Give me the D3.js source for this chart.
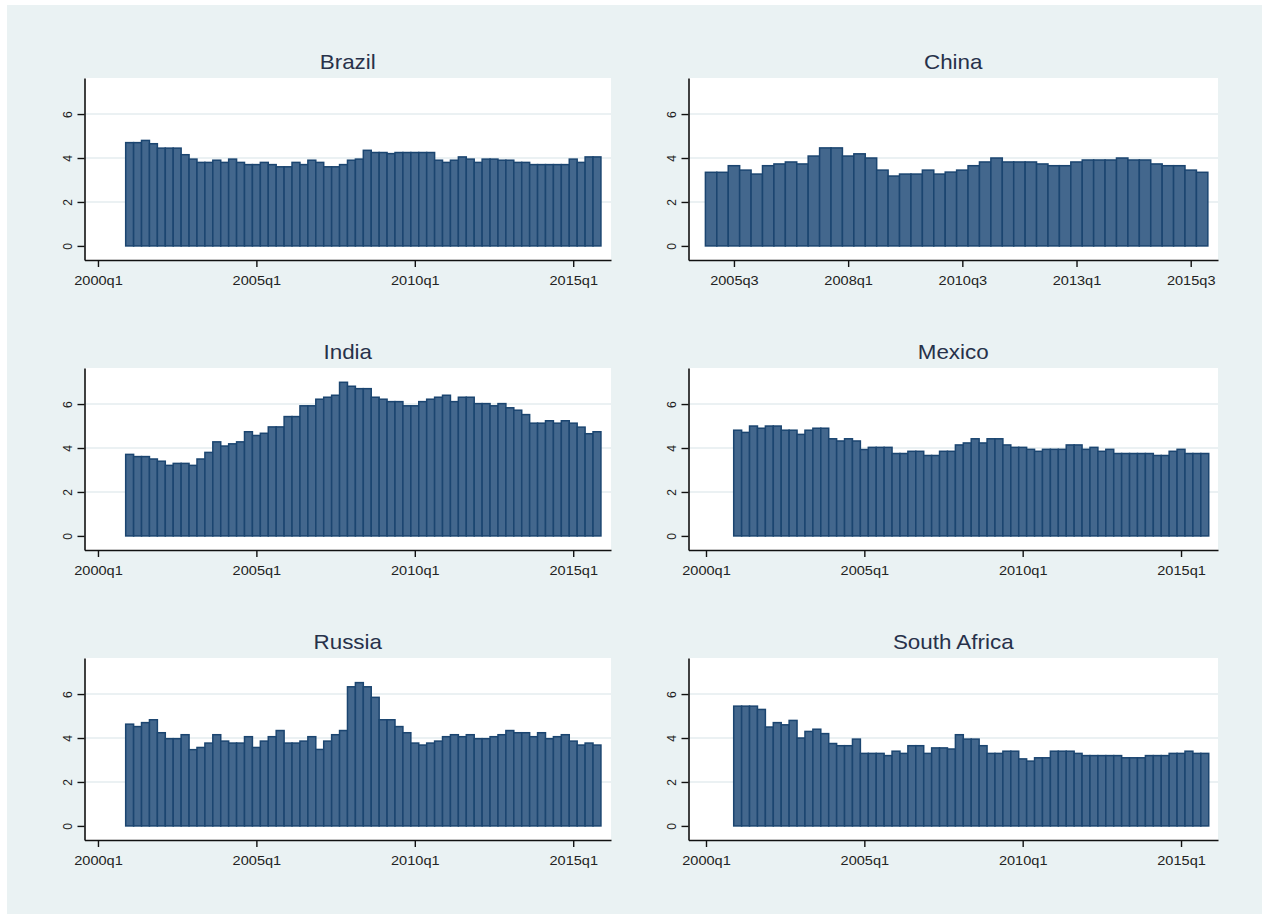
<!DOCTYPE html>
<html>
<head>
<meta charset="utf-8">
<script src="https://cdn.jsdelivr.net/npm/d3@7"></script>
<style>
  body { margin: 0; background: #ffffff; }
  svg { display: block; font-family: "Liberation Sans", Arial, sans-serif; }
</style>
</head>
<body>
<svg id="chart" width="1262" height="914"></svg>
<script>
// Quarterly series by country, one value per quarter starting at the listed first quarter
const countries = ["Brazil", "China", "India", "Mexico", "Russia", "South Africa"];
const firstQuarter = ["2001q1", "2005q1", "2001q1", "2001q1", "2001q1", "2001q1"];

const brazil = [4.7, 4.7, 4.8, 4.65, 4.45, 4.45, 4.45, 4.15, 3.95, 3.8,
  3.8, 3.9, 3.8, 3.95, 3.8, 3.7, 3.7, 3.8, 3.7, 3.6,
  3.6, 3.8, 3.7, 3.9, 3.8, 3.6, 3.6, 3.7, 3.9, 3.95,
  4.35, 4.25, 4.25, 4.2, 4.25, 4.25, 4.25, 4.25, 4.25, 3.9,
  3.8, 3.9, 4.05, 3.95, 3.8, 3.95, 3.95, 3.9, 3.9, 3.8,
  3.8, 3.7, 3.7, 3.7, 3.7, 3.7, 3.95, 3.8, 4.05, 4.05];

const china = [3.35, 3.35, 3.65, 3.45, 3.27, 3.65, 3.73, 3.82, 3.73, 4.09,
  4.46, 4.46, 4.09, 4.19, 4.0, 3.45, 3.18, 3.27, 3.27, 3.45,
  3.27, 3.36, 3.45, 3.65, 3.82, 4.0, 3.82, 3.82, 3.82, 3.73,
  3.65, 3.65, 3.82, 3.91, 3.91, 3.91, 4.0, 3.91, 3.91, 3.73,
  3.65, 3.65, 3.45, 3.35];

const india = [3.71, 3.61, 3.61, 3.5, 3.4, 3.21, 3.3, 3.3, 3.21, 3.5,
  3.8, 4.28, 4.09, 4.19, 4.28, 4.74, 4.57, 4.67, 4.96, 4.96,
  5.43, 5.43, 5.92, 5.92, 6.22, 6.31, 6.4, 6.99, 6.81, 6.7,
  6.7, 6.31, 6.22, 6.11, 6.11, 5.92, 5.92, 6.11, 6.22, 6.31,
  6.4, 6.11, 6.31, 6.31, 6.02, 6.02, 5.92, 6.02, 5.83, 5.72,
  5.52, 5.13, 5.13, 5.24, 5.13, 5.24, 5.13, 4.95, 4.65, 4.74];

const mexico = [4.81, 4.71, 5.0, 4.9, 5.0, 5.0, 4.81, 4.81, 4.62, 4.81,
  4.9, 4.9, 4.42, 4.32, 4.42, 4.32, 3.93, 4.03, 4.03, 4.03,
  3.75, 3.75, 3.85, 3.85, 3.66, 3.66, 3.85, 3.85, 4.14, 4.23,
  4.42, 4.23, 4.42, 4.42, 4.14, 4.03, 4.03, 3.94, 3.85, 3.94,
  3.94, 3.94, 4.14, 4.14, 3.94, 4.03, 3.85, 3.94, 3.75, 3.75,
  3.75, 3.75, 3.75, 3.66, 3.66, 3.85, 3.94, 3.75, 3.75, 3.75];

const russia = [4.63, 4.52, 4.7, 4.83, 4.24, 3.97, 3.97, 4.15, 3.47, 3.57,
  3.77, 4.15, 3.86, 3.77, 3.77, 4.06, 3.57, 3.86, 4.06, 4.34,
  3.77, 3.77, 3.86, 4.06, 3.48, 3.86, 4.15, 4.34, 6.33, 6.52,
  6.33, 5.85, 4.83, 4.83, 4.52, 4.24, 3.77, 3.68, 3.77, 3.86,
  4.06, 4.15, 4.06, 4.15, 3.97, 3.97, 4.06, 4.15, 4.34, 4.24,
  4.24, 4.06, 4.24, 3.97, 4.06, 4.15, 3.86, 3.68, 3.77, 3.68];

const southAfrica = [5.45, 5.45, 5.45, 5.3, 4.5, 4.7, 4.6, 4.8, 4.0, 4.3,
  4.4, 4.2, 3.75, 3.65, 3.65, 3.95, 3.3, 3.3, 3.3, 3.2,
  3.4, 3.3, 3.65, 3.65, 3.3, 3.55, 3.55, 3.5, 4.15, 3.95,
  3.95, 3.65, 3.3, 3.3, 3.4, 3.4, 3.05, 2.95, 3.1, 3.1,
  3.4, 3.4, 3.4, 3.3, 3.2, 3.2, 3.2, 3.2, 3.2, 3.1,
  3.1, 3.1, 3.2, 3.2, 3.2, 3.3, 3.3, 3.4, 3.3, 3.3];

const seriesValues = [brazil, china, india, mexico, russia, southAfrica];

// Axis labels
const yTicks = [0, 2, 4, 6];
const xTicksStandard = ["2000q1", "2005q1", "2010q1", "2015q1"];
const xTicksChina = ["2005q3", "2008q1", "2010q3", "2013q1", "2015q3"];

// Quarter string -> running quarter number (1960q1 = 0)
function quarterNumber(s) {
  const parts = s.split("q");
  return (+parts[0] - 1960) * 4 + (+parts[1] - 1);
}

const svg = d3.select("#chart");

// Graph region background
svg.append("rect")
  .attr("x", 7).attr("y", 5)
  .attr("width", 1255).attr("height", 909)
  .attr("fill", "#eaf2f3");

// Panel geometry (per column and row)
const colLeft = [84.5, 688.5];
const colRight = [611, 1218];
const rowTop = 78, rowStep = 290, plotHeight = 182;

// Horizontal quarter domains for each column
const xDomainStandard = [[158.3, 224.77], [157.79, 224.67]];
const xDomainChina = [178.02, 224.39];

countries.forEach((name, i) => {
  const col = i % 2, row = Math.floor(i / 2);
  const left = colLeft[col], right = colRight[col];
  const top = rowTop + row * rowStep, bottom = top + plotHeight;
  const isChina = name === "China";

  const x = d3.scaleLinear()
    .domain(isChina ? xDomainChina : xDomainStandard[col])
    .range([left, right]);
  const y = d3.scaleLinear().domain([-0.64, 7.64]).range([bottom, top]);

  const g = svg.append("g").attr("class", "panel");

  // Plot region
  g.append("rect")
    .attr("x", left).attr("y", top)
    .attr("width", right - left).attr("height", bottom - top)
    .attr("fill", "#ffffff");

  // Horizontal grid lines
  g.selectAll("line.grid")
    .data(yTicks.filter(t => t > 0))
    .join("line")
    .attr("class", "grid")
    .attr("x1", left).attr("x2", right)
    .attr("y1", d => y(d)).attr("y2", d => y(d))
    .attr("stroke", "#e4edef")
    .attr("stroke-width", 1.6);

  // Bars, one per quarter, centred on the quarter
  const q0 = quarterNumber(firstQuarter[i]);
  const rows = seriesValues[i].map((v, k) => ({ q: q0 + k, v: v }));
  const w = x(1) - x(0);
  g.selectAll("rect.bar")
    .data(rows)
    .join("rect")
    .attr("class", "bar")
    .attr("x", d => x(d.q) - w / 2)
    .attr("width", w)
    .attr("y", d => y(d.v))
    .attr("height", d => y(0) - y(d.v))
    .attr("fill", "#43678d")
    .attr("stroke", "#1b4570")
    .attr("stroke-width", 1.5);

  // X axis
  const xTicks = isChina ? xTicksChina : xTicksStandard;
  const xAxis = d3.axisBottom(x)
    .tickValues(xTicks.map(quarterNumber))
    .tickFormat((d, k) => xTicks[k])
    .tickSizeInner(7).tickSizeOuter(0).tickPadding(6);
  const gx = g.append("g")
    .attr("transform", `translate(0,${bottom})`)
    .call(xAxis);
  gx.select(".domain").attr("stroke", "#111").attr("stroke-width", 1.6);
  gx.selectAll(".tick line").attr("stroke", "#111").attr("stroke-width", 1.4);
  gx.selectAll(".tick text")
    .attr("font-size", 13)
    .attr("fill", "#222")
    .attr("font-family", "Liberation Sans, Arial, sans-serif")
    .attr("dy", "0.9em")
    .style("transform-box", "fill-box")
    .style("transform-origin", "center")
    .style("transform", "scaleX(1.12)");

  // Y axis with rotated labels
  const yAxis = d3.axisLeft(y)
    .tickValues(yTicks)
    .tickSizeInner(7).tickSizeOuter(0);
  const gy = g.append("g")
    .attr("transform", `translate(${left},0)`)
    .call(yAxis);
  gy.select(".domain").attr("stroke", "#111").attr("stroke-width", 1.6);
  gy.selectAll(".tick line").attr("stroke", "#111").attr("stroke-width", 1.4);
  gy.selectAll(".tick text")
    .attr("font-size", 12)
    .attr("fill", "#222")
    .attr("font-family", "Liberation Sans, Arial, sans-serif")
    .attr("text-anchor", "middle")
    .attr("x", 0).attr("y", -13).attr("dy", 0)
    .attr("transform", "rotate(-90)");

  // Panel title
  g.append("text")
    .attr("x", (left + right) / 2)
    .attr("y", top - 9)
    .attr("text-anchor", "middle")
    .attr("font-size", 20)
    .attr("fill", "#27314a")
    .style("transform-box", "fill-box").style("transform-origin", "center").style("transform", "scaleX(1.12)")
    .text(name);
});
</script>
</body>
</html>
